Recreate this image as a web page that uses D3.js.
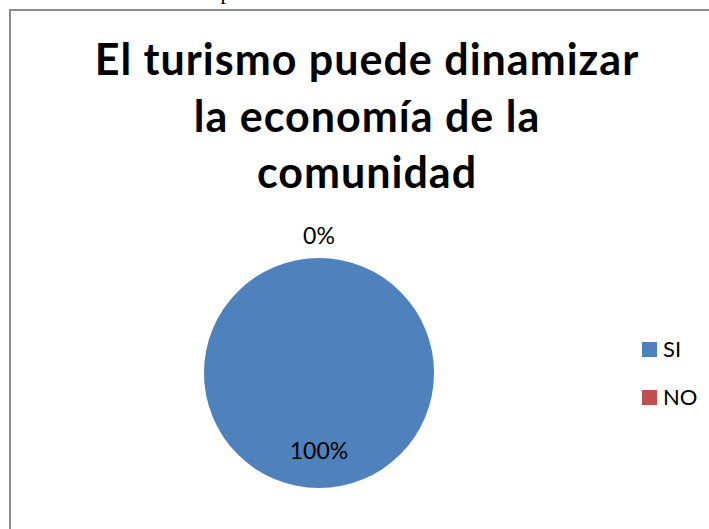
<!DOCTYPE html>
<html>
<head>
<meta charset="utf-8">
<script src="https://cdn.jsdelivr.net/npm/d3@7"></script>
<style>
  body { margin: 0; background: #fff; }
  svg { display: block; }
</style>
</head>
<body>
<div id="pie-chart"></div>
<script>
/* Pie chart: El turismo puede dinamizar la economía de la comunidad */

const categories = ["SI", "NO"];
const values = [100, 0];
const labels = ["100%", "0%"];
const titleLines = ["El turismo puede dinamizar", "la economía de la", "comunidad"];

const width = 709,
      height = 529,
      radius = 115,
      cx = 319,
      cy = 373;

let data = categories.map((c, i) => ({ cat: c, value: values[i], label: labels[i] }));

let svg = d3.select("#pie-chart")
    .append("svg")
    .attr("width", width)
    .attr("height", height);

// bit of the document text above the chart, cut off like in the original
svg.append("text")
    .attr("x", 226)
    .attr("y", -1)
    .attr("text-anchor", "middle")
    .style("font-family", "Liberation Serif")
    .style("font-size", "22px")
    .text("p");

// chart frame (only top & left edges visible)
svg.append("path")
    .attr("d", `M10,${height} V10 H${width}`)
    .attr("fill", "none")
    .attr("stroke", "#8c8c8c")
    .attr("stroke-width", 2);

// title
svg.append("g")
    .selectAll("text")
    .data(titleLines)
    .join("text")
    .attr("x", 367)
    .attr("y", (d, i) => 75 + i * 56.5)
    .attr("text-anchor", "middle")
    .style("font-family", "Lato")
    .style("font-weight", "bold")
    .style("font-size", "43px")
    .style("letter-spacing", "1px")
    .text(d => d);

let color = d3.scaleOrdinal()
    .domain(categories)
    .range(["#4F81BD", "#C0504D"]);

let pie = d3.pie()
    .sort(null)
    .value(d => d.value);

let arc = d3.arc()
    .innerRadius(0)
    .outerRadius(radius);

let arcs = pie(data);

let g = svg.append("g")
    .attr("transform", `translate(${cx},${cy})`);

g.selectAll("path")
    .data(arcs)
    .join("path")
    .attr("d", arc)
    .attr("fill", d => color(d.data.cat));

// inside label for the big slice, outside label for the empty one
let inArc = d3.arc().innerRadius(radius * 0.67).outerRadius(radius * 0.67);
let outArc = d3.arc().innerRadius(radius + 23).outerRadius(radius + 23);

g.selectAll(".lbl")
    .data(arcs)
    .join("text")
    .attr("class", "lbl")
    .attr("transform", d => `translate(${(d.value > 0 ? inArc : outArc).centroid(d)})`)
    .attr("text-anchor", "middle")
    .attr("dominant-baseline", "central")
    .style("font-family", "Lato")
    .style("font-size", "23px")
    .style("fill", "#000")
    .text(d => d.data.label);

// legend
let legend = svg.append("g")
    .attr("transform", "translate(642,342)");

let item = legend.selectAll("g")
    .data(categories)
    .join("g")
    .attr("transform", (d, i) => `translate(0,${i * 48})`);

item.append("rect")
    .attr("width", 15)
    .attr("height", 15)
    .attr("fill", d => color(d));

item.append("text")
    .attr("x", 21)
    .attr("y", 15)
    .style("font-family", "Lato")
    .style("font-size", "22px")
    .text(d => d);
</script>
</body>
</html>
